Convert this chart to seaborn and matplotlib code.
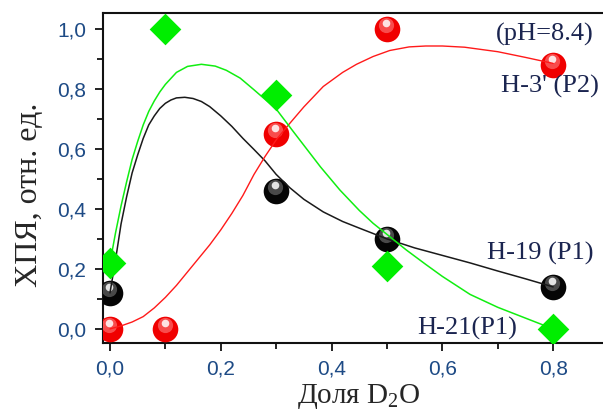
import matplotlib
matplotlib.use("Agg")
import matplotlib.pyplot as plt
import matplotlib.transforms as mtrans
from matplotlib.ticker import MultipleLocator, FuncFormatter
import seaborn as sns

# measured points
x_pts = [0.0, 0.1, 0.3, 0.5, 0.8]
h3_y = [0.0, 0.0, 0.65, 1.0, 0.88]      # H-3' (P2), red
h21_y = [0.22, 1.0, 0.78, 0.21, 0.0]    # H-21 (P1), green
h19_x = [0.0, 0.3, 0.5, 0.8]
h19_y = [0.12, 0.46, 0.30, 0.14]        # H-19 (P1), black

# fitted curves
black_cx = [0, 0.01, 0.02, 0.03, 0.04, 0.05, 0.06, 0.07, 0.08, 0.09, 0.10, 0.11, 0.12,
            0.135, 0.15, 0.165, 0.18, 0.20, 0.22, 0.24, 0.26, 0.28, 0.30, 0.325, 0.35,
            0.385, 0.42, 0.45, 0.50, 0.55, 0.60, 0.65, 0.70, 0.75, 0.80]
black_cy = [0.12, 0.23, 0.35, 0.44, 0.52, 0.58, 0.635, 0.68, 0.71, 0.735, 0.752, 0.763, 0.77,
            0.772, 0.768, 0.758, 0.741, 0.71, 0.675, 0.635, 0.598, 0.56, 0.515, 0.47, 0.432,
            0.39, 0.358, 0.336, 0.30, 0.27, 0.245, 0.22, 0.193, 0.167, 0.14]

green_cx = [0, 0.01, 0.02, 0.03, 0.04, 0.05, 0.06, 0.07, 0.08, 0.09, 0.10, 0.12, 0.14,
            0.165, 0.19, 0.21, 0.235, 0.26, 0.28, 0.30, 0.33, 0.355, 0.38, 0.415, 0.45,
            0.475, 0.50, 0.535, 0.57, 0.60, 0.65, 0.70, 0.75, 0.80]
green_cy = [0.22, 0.32, 0.41, 0.49, 0.565, 0.625, 0.68, 0.725, 0.76, 0.79, 0.815, 0.855, 0.875,
            0.882, 0.876, 0.862, 0.836, 0.797, 0.765, 0.733, 0.66, 0.6, 0.54, 0.463, 0.395,
            0.352, 0.315, 0.263, 0.215, 0.175, 0.115, 0.072, 0.036, 0.0]

red_cx = [0, 0.02, 0.04, 0.06, 0.08, 0.10, 0.12, 0.14, 0.16, 0.18, 0.20, 0.22, 0.24, 0.26,
          0.28, 0.30, 0.325, 0.35, 0.385, 0.42, 0.445, 0.475, 0.505, 0.54, 0.57, 0.60,
          0.64, 0.70, 0.75, 0.80]
red_cy = [0.0, 0.01, 0.023, 0.041, 0.07, 0.105, 0.145, 0.19, 0.235, 0.28, 0.33, 0.385, 0.445,
          0.515, 0.575, 0.63, 0.686, 0.74, 0.808, 0.855, 0.882, 0.908, 0.928, 0.94, 0.943,
          0.943, 0.939, 0.924, 0.905, 0.885]

sns.set_style("ticks")
plt.rcParams["font.family"] = ["Liberation Sans", "DejaVu Sans"]
plt.rcParams["mathtext.fontset"] = "custom"
plt.rcParams["mathtext.rm"] = "Liberation Serif"

fig = plt.figure(figsize=(6.03, 4.18), dpi=100)
ax = fig.add_axes([103 / 603, 1 - 343 / 418, 500 / 603, 330 / 418])

# glossy sphere look: base + lighter blob + white highlight
hl1 = mtrans.offset_copy(ax.transData, fig=fig, x=-0.5, y=3, units="points")
hl2 = mtrans.offset_copy(ax.transData, fig=fig, x=-0.5, y=4, units="points")


def spheres(x, y, base, mid):
    sns.scatterplot(x=x, y=y, ax=ax, color=base, s=340, marker="o", linewidth=0, zorder=3)
    sns.scatterplot(x=x, y=y, ax=ax, color=mid, s=120, marker="o", linewidth=0,
                    alpha=0.6, transform=hl1, zorder=4)
    sns.scatterplot(x=x, y=y, ax=ax, color="white", s=30, marker="o", linewidth=0,
                    alpha=0.85, transform=hl2, zorder=5)


spheres(h19_x, h19_y, "#050505", "#777777")
spheres(x_pts, h3_y, "#f00000", "#ff8080")

sns.lineplot(x=black_cx, y=black_cy, ax=ax, color="#1a1a1a", lw=1.1, zorder=6)
sns.lineplot(x=red_cx, y=red_cy, ax=ax, color="#ff1a1a", lw=1.0, zorder=6)
sns.lineplot(x=green_cx, y=green_cy, ax=ax, color="#11ee11", lw=1.1, zorder=6)

sns.scatterplot(x=x_pts, y=h21_y, ax=ax, color="#00ee00", s=260, marker="D",
                linewidth=0, zorder=7)

ax.set_xlim(-0.0126, 0.89)
ax.set_ylim(-0.047, 1.053)
ax.xaxis.set_major_locator(MultipleLocator(0.2))
ax.xaxis.set_minor_locator(MultipleLocator(0.1))
ax.yaxis.set_major_locator(MultipleLocator(0.2))
ax.yaxis.set_minor_locator(MultipleLocator(0.1))
comma = FuncFormatter(lambda v, p: f"{v:.1f}".replace(".", ","))
ax.xaxis.set_major_formatter(comma)
ax.yaxis.set_major_formatter(comma)

for s in ["left", "bottom", "top"]:
    ax.spines[s].set_linewidth(1.5)
    ax.spines[s].set_color("#111111")
ax.spines["right"].set_visible(False)
ax.tick_params(which="major", length=6, width=1.3, labelsize=15,
               labelcolor="#1d4a85", pad=6, color="#111111")
ax.tick_params(which="minor", length=4, width=1.3, color="#111111")
ax.tick_params(top=False)

ax.set_ylabel("ХПЯ, отн. ед.", family="Liberation Serif", fontsize=23)
ax.yaxis.set_label_coords(-0.118, 0.45)
ax.set_xlabel("Доля D$_2$O", family="Liberation Serif", fontsize=21)
ax.xaxis.set_label_coords(0.512, -0.118)

txt = dict(family="Liberation Serif", fontsize=19, color="#1b2550", ha="center", va="center")
ax.text(0.785, 0.983, "(pH=8.4)", **txt)
ax.text(0.794, 0.807, "H-3' (P2)", **txt)
ax.text(0.776, 0.25, "H-19 (P1)", **txt)
ax.text(0.644, 0.003, "H-21(P1)", **txt)

fig.savefig("out.png", dpi=100)
